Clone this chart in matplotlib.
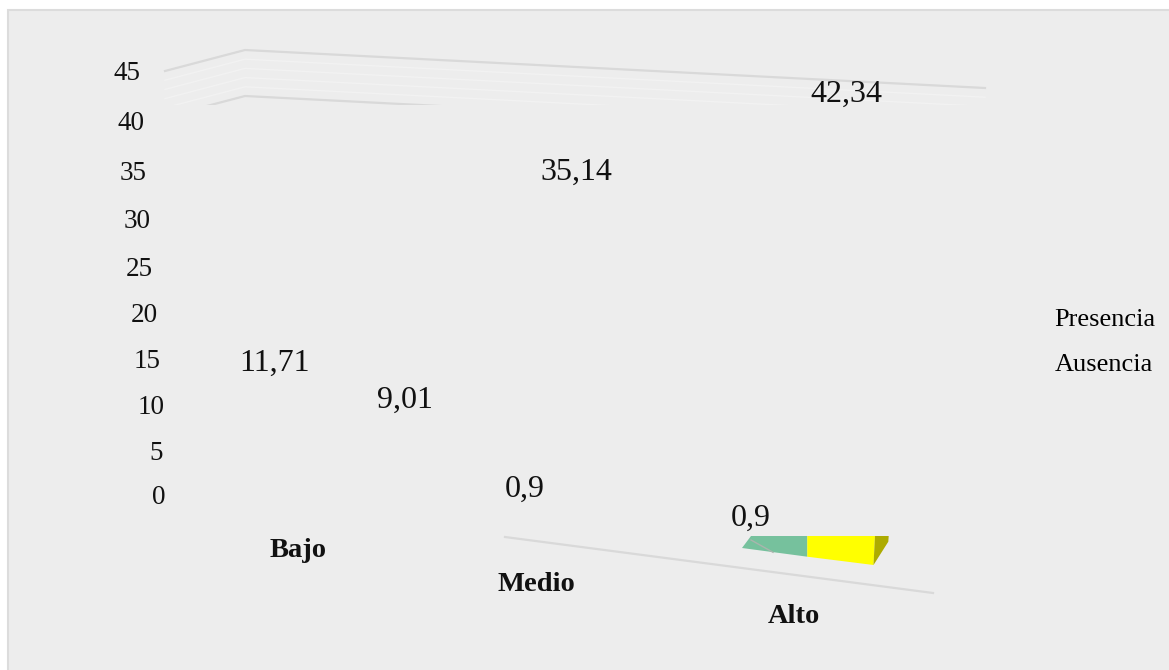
import matplotlib
matplotlib.use("Agg")
import matplotlib.pyplot as plt
from matplotlib.patches import Patch, Polygon, Rectangle
from matplotlib.transforms import Affine2D

W, H = 1169, 670
plt.rcParams["font.family"] = ["Liberation Serif", "DejaVu Serif"]

# Survey results
categories = ["Bajo", "Medio", "Alto"]
presencia = [9.01, 35.14, 42.34]
ausencia = [11.71, 0.9, 0.9]
value_ticks = [0, 5, 10, 15, 20, 25, 30, 35, 40, 45]
decimal_comma = {0.9: "0,9", 9.01: "9,01", 11.71: "11,71",
                 35.14: "35,14", 42.34: "42,34"}

# Perspective placement of the text, in pixels
presencia_nudge = [(107, 9), (30, -9), (52, 2)]
ausencia_nudge = [(-23, 21), (-21, -4), (-43, -33)]
category_nudge = [(0, -44), (-10, -78), (0, -110)]
tick_centres = [159, 156, 151, 147, 144, 139, 137, 133, 131, 127]
tick_drops = [1, 3, 4, 5, 6, 7, 7, 5, 3, 0]

fig = plt.figure(figsize=(W / 100, H / 100), dpi=100, facecolor="white")

# Backdrop: panel, receding wall and floor, drawn in pixel space
back = fig.add_axes([0, 0, 1, 1])
back.set_xlim(0, W)
back.set_ylim(H, 0)
back.axis("off")
back.add_patch(Rectangle((8, 9.5), W, H, facecolor="#ededed",
                         edgecolor="#dcdcdc", linewidth=1.5))

wall_clip = Rectangle((0, 0), W, 105, transform=back.transData)
for i in range(6):
    rise = 9.2 * i
    strong = i in (0, 5)
    line, = back.plot([165, 245, 985],
                      [71 + rise, 50 + rise, 88 + rise],
                      color="#d9d9d9" if strong else "#f2f2f2",
                      lw=1.6 if strong else 1.0,
                      solid_joinstyle="miter", zorder=2)
    line.set_clip_path(wall_clip)

back.plot([505, 933], [537, 593], color="#d9d9d9", lw=1.6, zorder=2)

# Sliver of the front Alto column left visible on the floor
back.add_patch(Polygon([(742, 548), (751, 536), (807.3, 536), (807.3, 556.7)],
                       facecolor="#76c19d", edgecolor="none", zorder=3))
back.add_patch(Polygon([(807.3, 536), (875, 536), (873.5, 565), (807.3, 556.7)],
                       facecolor="#ffff00", edgecolor="none", zorder=3))
back.add_patch(Polygon([(875, 536), (888.7, 536), (888.3, 541.7), (873.5, 565)],
                       facecolor="#adab00", edgecolor="none", zorder=3))
back.plot([751, 773], [540, 552.3], color="#a9b5ad", lw=1, zorder=4)

# Value axes
left, right, top, bottom = 168, 985, 71, 494
ax = fig.add_axes([left / W, 1 - bottom / H, (right - left) / W, (bottom - top) / H])
ax.patch.set_alpha(0)
ax.set_xlim((left - 298) / 248, (right - 298) / 248)
ax.set_ylim(0, 45)
for spine in ax.spines.values():
    spine.set_visible(False)

ax.set_yticks(value_ticks)
ax.tick_params(axis="both", length=0, pad=0)
for label, cx, drop in zip(ax.get_yticklabels(), tick_centres, tick_drops):
    label.set_fontsize(19.5)
    label.set_color("#111111")
    label.set_ha("center")
    label.set_transform(label.get_transform() + Affine2D().translate(cx - left, -drop))

ax.set_xticks(range(len(categories)), categories)
for label, (dx, dy) in zip(ax.get_xticklabels(), category_nudge):
    label.set_fontsize(20.5)
    label.set_fontweight("bold")
    label.set_color("#111111")
    label.set_transform(label.get_transform() + Affine2D().translate(dx, dy))

for values, nudges in ((ausencia, ausencia_nudge), (presencia, presencia_nudge)):
    for cat, (value, nudge) in enumerate(zip(values, nudges)):
        ax.annotate(decimal_comma[value], xy=(cat, value), xytext=nudge,
                    textcoords="offset pixels", ha="center", va="center",
                    fontsize=23, color="#111111", annotation_clip=False)

legend = fig.legend(handles=[Patch(alpha=0, label="Presencia"),
                             Patch(alpha=0, label="Ausencia")],
                    loc="center left", bbox_to_anchor=(1054.5 / W, 1 - 342 / H),
                    frameon=False, fontsize=19, handlelength=0, handletextpad=0,
                    labelspacing=0.82, borderpad=0, borderaxespad=0)

fig.savefig("out.png", dpi=100)
